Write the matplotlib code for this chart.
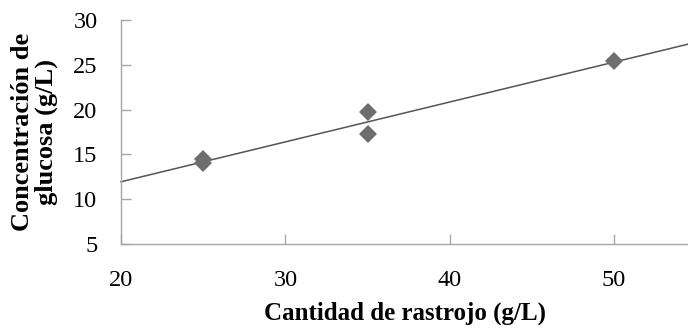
import numpy as np
import matplotlib
matplotlib.use("Agg")
import matplotlib.pyplot as plt

# Stubble loading (g/L) and measured glucose concentration (g/L)
rastrojo = [25, 25, 35, 35, 50]
glucosa = [14.5, 14.0, 19.7, 17.3, 25.4]
x_ticks = [20, 30, 40, 50]
y_ticks = [5, 10, 15, 20, 25, 30]

plt.rcParams["font.family"] = ["Liberation Serif", "DejaVu Serif"]

fig = plt.figure(figsize=(6.88, 3.28), dpi=100)
ax = fig.add_axes([0.176, 0.256, 0.824, 0.683])

x_min, x_max = 20, 54.5
ax.set_xlim(x_min, x_max)
ax.set_ylim(5, 30)

# Linear trend line over the full axis range
slope, intercept = np.polyfit(rastrojo, glucosa, 1)
xs = np.array([x_min, x_max])
ax.plot(xs, slope * xs + intercept, color="#555555", lw=1.1, zorder=2, clip_on=False)

ax.plot(rastrojo, glucosa, linestyle="none", marker="D", markersize=9.5,
        color="#6e6e6e", markeredgewidth=0, zorder=3)

ax.set_xticks(x_ticks)
ax.set_yticks(y_ticks)
ax.tick_params(axis="both", direction="in", length=7, width=1, color="#a6a6a6",
               labelsize=17.5, labelcolor="black")
ax.tick_params(axis="x", pad=19)
ax.tick_params(axis="y", pad=17)

for side in ("top", "right"):
    ax.spines[side].set_visible(False)
for side in ("left", "bottom"):
    ax.spines[side].set_color("#a6a6a6")
    ax.spines[side].set_linewidth(1)

ax.set_xlabel("Cantidad de rastrojo (g/L)", fontsize=18, fontweight="bold", labelpad=7)
ax.set_ylabel("Concentración de\nglucosa (g/L)", fontsize=19, fontweight="bold",
              labelpad=11, linespacing=1.0)

fig.savefig("out.png", dpi=100)
